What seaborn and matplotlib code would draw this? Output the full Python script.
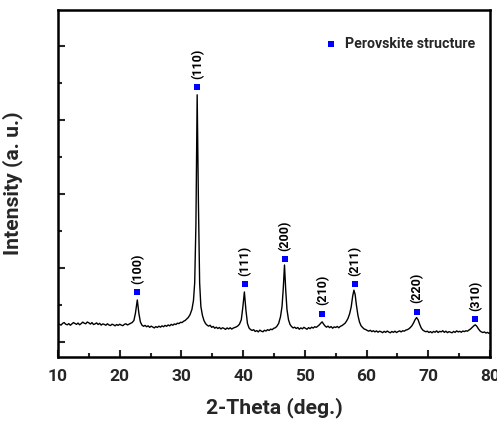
import matplotlib
matplotlib.use("Agg")
import matplotlib.pyplot as plt
import seaborn as sns
import pandas as pd
from matplotlib.ticker import MultipleLocator

# ---- data ----
two_theta = [
    10.0, 10.25, 10.5, 10.75, 11.0, 11.25, 11.5, 11.75, 12.0, 12.25,
    12.5, 12.75, 13.0, 13.25, 13.5, 13.75, 14.0, 14.25, 14.5, 14.75,
    15.0, 15.25, 15.5, 15.75, 16.0, 16.25, 16.5, 16.75, 17.0, 17.25,
    17.5, 17.75, 18.0, 18.25, 18.5, 18.75, 19.0, 19.25, 19.5, 19.75,
    20.0, 20.25, 20.5, 20.75, 21.0, 21.25, 21.5, 21.75, 22.0, 22.3,
    22.55, 22.85, 23.1, 23.35, 23.6, 23.85, 24.1, 24.35, 24.6, 24.85,
    25.1, 25.35, 25.6, 25.85, 26.1, 26.35, 26.6, 26.85, 27.1, 27.35,
    27.6, 27.85, 28.1, 28.35, 28.6, 28.85, 29.1, 29.35, 29.6, 29.85,
    30.1, 30.35, 30.6, 30.85, 31.1, 31.4, 31.7, 31.95, 32.15, 32.35,
    32.55, 32.75, 32.95, 33.15, 33.4, 33.65, 33.9, 34.15, 34.4, 34.65,
    34.9, 35.15, 35.4, 35.65, 35.9, 36.15, 36.4, 36.65, 36.9, 37.15,
    37.4, 37.65, 37.9, 38.15, 38.4, 38.65, 38.9, 39.15, 39.4, 39.7,
    39.95, 40.2, 40.45, 40.7, 40.95, 41.2, 41.45, 41.7, 41.95, 42.2,
    42.45, 42.7, 42.95, 43.2, 43.45, 43.7, 43.95, 44.2, 44.45, 44.7,
    44.95, 45.2, 45.45, 45.75, 46.05, 46.3, 46.5, 46.7, 46.9, 47.1,
    47.35, 47.6, 47.85, 48.1, 48.35, 48.6, 48.85, 49.1, 49.35, 49.6,
    49.85, 50.1, 50.35, 50.6, 50.85, 51.1, 51.35, 51.6, 51.85, 52.1,
    52.35, 52.6, 52.8, 53.0, 53.25, 53.5, 53.75, 54.0, 54.25, 54.5,
    54.75, 55.0, 55.25, 55.5, 55.75, 56.0, 56.25, 56.5, 56.75, 57.0,
    57.25, 57.5, 57.75, 57.95, 58.15, 58.35, 58.6, 58.85, 59.1, 59.35,
    59.6, 59.85, 60.1, 60.35, 60.6, 60.85, 61.1, 61.35, 61.6, 61.85,
    62.1, 62.35, 62.6, 62.85, 63.1, 63.35, 63.6, 63.85, 64.1, 64.35,
    64.6, 64.85, 65.1, 65.35, 65.6, 65.85, 66.1, 66.35, 66.6, 66.85,
    67.1, 67.35, 67.6, 67.85, 68.1, 68.35, 68.6, 68.85, 69.1, 69.35,
    69.6, 69.85, 70.1, 70.35, 70.6, 70.85, 71.1, 71.35, 71.6, 71.85,
    72.1, 72.35, 72.6, 72.85, 73.1, 73.35, 73.6, 73.85, 74.1, 74.35,
    74.6, 74.85, 75.1, 75.35, 75.6, 75.85, 76.1, 76.35, 76.6, 76.85,
    77.1, 77.35, 77.6, 77.85, 78.1, 78.35, 78.6, 78.85, 79.1, 79.35,
    79.6, 79.85, 80.0]
intensity = [
    250, 238, 228, 252, 262, 240, 232, 248, 226, 244,
    262, 250, 238, 256, 232, 248, 268, 254, 246, 270,
    258, 242, 262, 236, 244, 258, 236, 252, 228, 244,
    238, 226, 246, 230, 222, 240, 232, 218, 236, 224,
    240, 228, 220, 238, 246, 230, 240, 252, 262, 290,
    390, 568, 390, 270, 228, 212, 224, 206, 218, 198,
    214, 202, 190, 208, 196, 214, 200, 218, 206, 224,
    212, 230, 218, 238, 226, 244, 236, 254, 248, 266,
    262, 280, 290, 310, 330, 370, 440, 560, 800, 1600,
    3340, 1900, 800, 480, 360, 290, 250, 228, 214, 226,
    198, 210, 186, 200, 182, 196, 176, 192, 184, 170,
    190, 176, 192, 174, 188, 196, 204, 218, 240, 300,
    470, 676, 430, 250, 190, 168, 156, 166, 142, 154,
    136, 160, 146, 138, 158, 148, 166, 156, 174, 166,
    184, 192, 210, 250, 340, 480, 720, 1040, 700, 440,
    300, 236, 208, 190, 200, 182, 196, 172, 190, 178,
    198, 184, 172, 194, 180, 200, 188, 206, 198, 214,
    232, 256, 272, 246, 218, 200, 214, 194, 208, 186,
    204, 196, 210, 192, 212, 220, 236, 252, 282, 320,
    380, 470, 620, 700, 640, 500, 360, 270, 220, 196,
    176, 168, 156, 146, 158, 140, 152, 136, 150, 132,
    146, 138, 126, 144, 130, 148, 134, 124, 142, 130,
    146, 128, 140, 150, 136, 152, 146, 160, 166, 178,
    196, 220, 256, 300, 330, 300, 240, 190, 162, 148,
    138, 146, 128, 140, 124, 142, 132, 150, 128, 144,
    136, 152, 130, 146, 126, 140, 132, 124, 142, 130,
    150, 136, 144, 132, 148, 140, 152, 146, 162, 176,
    196, 216, 232, 214, 180, 152, 136, 128, 136, 120,
    130, 116, 122]

peak_theta = [22.85, 32.6, 40.25, 46.75, 52.85, 58.1, 68.1, 77.65]
marker_int = [676, 3446, 784, 1122, 383, 780, 410, 307]
hkl_labels = ["(100)", "(110)", "(111)", "(200)", "(210)", "(211)", "(220)", "(310)"]

sns.set_theme(style="ticks")
plt.rcParams["font.family"] = ["Roboto", "DejaVu Sans"]
plt.rcParams["font.weight"] = "bold"

fig = plt.figure(figsize=(4.97, 4.23), dpi=100)
ax = fig.add_axes([58 / 497, 1 - 357 / 423, 432 / 497, 347 / 423])

df = pd.DataFrame({"two_theta": two_theta, "intensity": intensity})
sns.lineplot(data=df, x="two_theta", y="intensity", sort=False, estimator=None,
             color="black", linewidth=1.0, ax=ax)

pk = pd.DataFrame({"two_theta": peak_theta, "intensity": marker_int})
sns.scatterplot(data=pk, x="two_theta", y="intensity", marker="s", color="#0000FF",
                s=20, linewidth=0, ax=ax, label="Perovskite structure", zorder=5)

for x, y, t in zip(peak_theta, marker_int, hkl_labels):
    ax.annotate(t, (x, y), xytext=(0, 6), textcoords="offset points", rotation=90,
                ha="center", va="bottom", fontsize=9, fontweight="bold", color="black")

ax.set_xlim(10, 80)
ax.set_ylim(-203, 4486)
ax.xaxis.set_major_locator(MultipleLocator(10))
ax.xaxis.set_minor_locator(MultipleLocator(5))
ax.yaxis.set_major_locator(MultipleLocator(1000))
ax.yaxis.set_minor_locator(MultipleLocator(500))
ax.set_yticklabels([])
ax.tick_params(axis="both", which="major", direction="in", length=5, width=1.5,
               labelsize=12.5, pad=8.5, top=False, right=False)
ax.tick_params(axis="both", which="minor", direction="in", length=3, width=1.5,
               top=False, right=False)
for lab in ax.get_xticklabels():
    lab.set_fontweight("bold")
for sp in ax.spines.values():
    sp.set_linewidth(1.8)
    sp.set_color("black")

ax.set_xlabel("2-Theta (deg.)", fontsize=15.2, fontweight="bold", labelpad=10)
ax.set_ylabel("Intensity (a. u.)", fontsize=15.2, fontweight="bold", labelpad=17)

leg = ax.legend(loc="upper right", bbox_to_anchor=(0.979, 0.939), frameon=False,
                fontsize=10.2, handletextpad=0.5, markerscale=1.0, borderaxespad=0,
                handlelength=1.0)
for t in leg.get_texts():
    t.set_fontweight("bold")

fig.savefig("out.png", dpi=100)
